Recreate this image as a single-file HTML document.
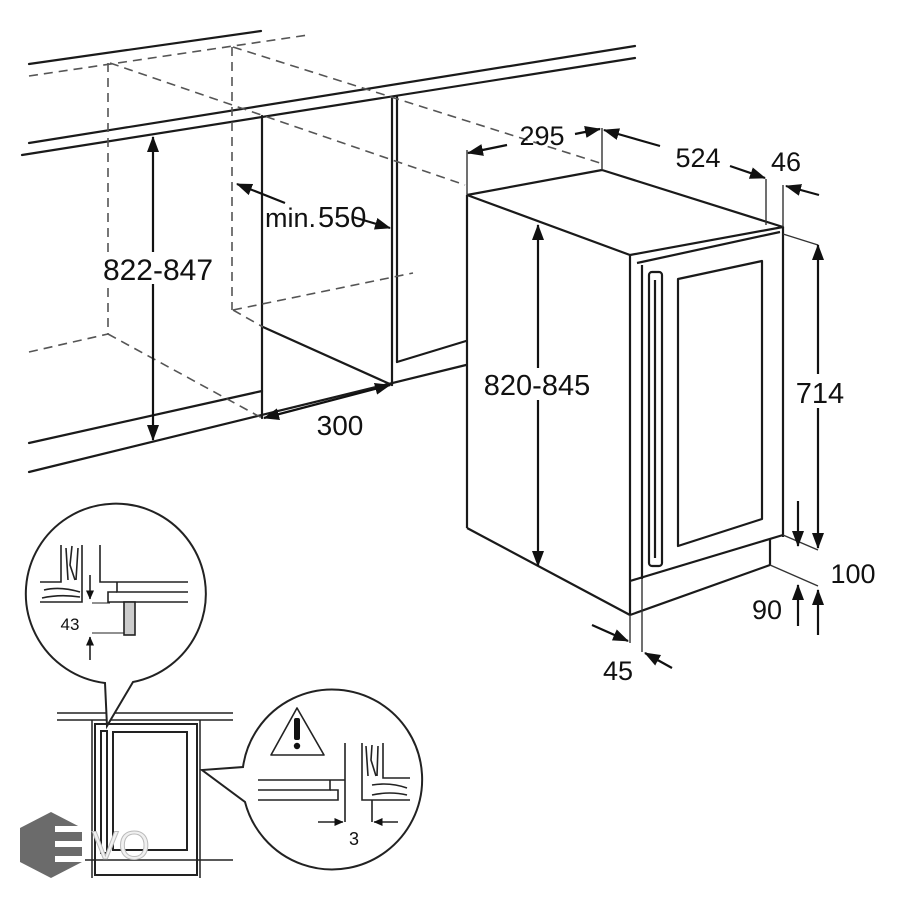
<!DOCTYPE html>
<html><head><meta charset="utf-8"><style>
html,body{margin:0;padding:0;background:#fff}
svg{display:block}
text{font-family:"Liberation Sans",sans-serif;fill:#111}
</style></head><body>
<svg width="911" height="900" viewBox="0 0 911 900" xmlns="http://www.w3.org/2000/svg">
<defs>
<marker id="a" markerUnits="userSpaceOnUse" markerWidth="16" markerHeight="12" refX="15" refY="6" orient="auto-start-reverse">
<path d="M0,0 L16,6 L0,12 Z" fill="#111"/></marker>
<marker id="s" markerUnits="userSpaceOnUse" markerWidth="9" markerHeight="8" refX="8.5" refY="4" orient="auto-start-reverse">
<path d="M0,0 L9,4 L0,8 Z" fill="#111"/></marker>
</defs>
<g stroke="#1a1a1a" stroke-width="2.2" fill="none" stroke-linecap="round">
<!-- kitchen: solid lines -->
<line x1="29" y1="64" x2="261" y2="31"/>
<line x1="29" y1="143" x2="635" y2="46"/>
<line x1="22" y1="155" x2="635" y2="58"/>
<line x1="262" y1="116" x2="262" y2="418"/>
<line x1="392" y1="97" x2="392" y2="385"/>
<line x1="397" y1="96" x2="397" y2="362"/>
<line x1="397" y1="362" x2="466" y2="341"/>
<line x1="263" y1="327" x2="392" y2="385"/>
<line x1="29" y1="443" x2="262" y2="391"/>
<line x1="29" y1="472" x2="466" y2="365"/>
</g>
<g stroke="#555" stroke-width="1.6" fill="none" stroke-dasharray="9,6">
<line x1="29" y1="76" x2="308" y2="35"/>
<line x1="108" y1="63" x2="108" y2="334"/>
<line x1="232" y1="47" x2="232" y2="310"/>
<line x1="110" y1="63" x2="465" y2="185"/>
<line x1="233" y1="47" x2="600" y2="163"/>
<line x1="233" y1="310" x2="263" y2="327"/>
<line x1="233" y1="310" x2="413" y2="273"/>
<line x1="29" y1="352" x2="108" y2="334"/>
<line x1="108" y1="334" x2="262" y2="418"/>
</g>
<!-- kitchen dims -->
<g stroke="#111" stroke-width="2.2" fill="none">
<line x1="153" y1="137" x2="153" y2="440" marker-start="url(#a)" marker-end="url(#a)"/>
<line x1="285" y1="203" x2="237" y2="184" marker-end="url(#a)"/>
<line x1="353" y1="217" x2="390" y2="228" marker-end="url(#a)"/>
<line x1="264" y1="418" x2="390" y2="385" marker-start="url(#a)" marker-end="url(#a)"/>
</g>
<rect x="98" y="252" width="120" height="32" fill="#fff"/>
<text x="158" y="280" font-size="30" text-anchor="middle">822-847</text>
<text x="265" y="227" font-size="27">min.</text>
<text x="318" y="227" font-size="29">550</text>
<text x="340" y="435" font-size="28" text-anchor="middle">300</text>
<!-- appliance -->
<g stroke="#1a1a1a" stroke-width="2.2" fill="none" stroke-linejoin="round">
<polyline points="467,195 602,170 783,227 630,255 467,195"/>
<line x1="467" y1="195" x2="467" y2="528"/>
<line x1="467" y1="528" x2="630" y2="615"/>
<line x1="630" y1="255" x2="630" y2="615"/>
<line x1="783" y1="227" x2="783" y2="537"/>
<line x1="637" y1="263" x2="780" y2="232"/>
<line x1="630" y1="581" x2="783" y2="535"/>
<line x1="630" y1="615" x2="770" y2="565"/>
<line x1="770" y1="539" x2="770" y2="565"/>
<line x1="642" y1="265" x2="642" y2="579"/>
<polygon points="678,279 762,261 762,519 678,546"/>
<rect x="649" y="272" width="13" height="294" rx="3"/>
<line x1="655" y1="280" x2="655" y2="558"/>
</g>
<g stroke="#333" stroke-width="1.4" fill="none">
<line x1="467" y1="195" x2="467" y2="150"/>
<line x1="602" y1="170" x2="602" y2="128"/>
<line x1="766" y1="179" x2="766" y2="225"/>
<line x1="783" y1="185" x2="783" y2="227"/>
<line x1="783" y1="234" x2="818" y2="245"/>
<line x1="783" y1="535" x2="818" y2="550"/>
<line x1="770" y1="565" x2="818" y2="586"/>
<line x1="630" y1="615" x2="630" y2="643"/>
<line x1="642" y1="579" x2="642" y2="652"/>
</g>
<g stroke="#111" stroke-width="2.2" fill="none">
<line x1="507" y1="145" x2="468" y2="153" marker-end="url(#a)"/>
<line x1="575" y1="134" x2="600" y2="129" marker-end="url(#a)"/>
<line x1="660" y1="146" x2="604" y2="130" marker-end="url(#a)"/>
<line x1="730" y1="166" x2="765" y2="178" marker-end="url(#a)"/>
<line x1="819" y1="195" x2="786" y2="186" marker-end="url(#a)"/>
<line x1="538" y1="225" x2="538" y2="566" marker-start="url(#a)" marker-end="url(#a)"/>
<line x1="818" y1="245" x2="818" y2="548" marker-start="url(#a)" marker-end="url(#a)"/>
<line x1="798" y1="501" x2="798" y2="546" marker-end="url(#a)"/>
<line x1="798" y1="626" x2="798" y2="585" marker-end="url(#a)"/>
<line x1="818" y1="635" x2="818" y2="590" marker-end="url(#a)"/>
<line x1="592" y1="625" x2="628" y2="641" marker-end="url(#a)"/>
<line x1="672" y1="668" x2="645" y2="653" marker-end="url(#a)"/>
</g>
<rect x="474" y="368" width="126" height="32" fill="#fff"/>
<rect x="793" y="374" width="56" height="34" fill="#fff"/>
<text x="537" y="395" font-size="29" text-anchor="middle">820-845</text>
<text x="820" y="403" font-size="29" text-anchor="middle">714</text>
<text x="542" y="145" font-size="27" text-anchor="middle">295</text>
<text x="698" y="167" font-size="27" text-anchor="middle">524</text>
<text x="786" y="171" font-size="27" text-anchor="middle">46</text>
<text x="853" y="583" font-size="27" text-anchor="middle">100</text>
<text x="767" y="619" font-size="27" text-anchor="middle">90</text>
<text x="618" y="680" font-size="27" text-anchor="middle">45</text>
<!-- bottom small drawing -->
<g stroke="#222" stroke-width="1.5" fill="none">
<line x1="57" y1="713" x2="233" y2="713"/>
<line x1="57" y1="720" x2="233" y2="720"/>
<line x1="57" y1="860" x2="233" y2="860"/>
<line x1="92" y1="720" x2="92" y2="878"/>
<line x1="200" y1="720" x2="200" y2="878"/>
<rect x="95" y="724" width="102" height="151" stroke-width="2"/>
<rect x="113" y="732" width="74" height="118" stroke-width="2"/>
<rect x="101" y="731" width="6" height="122" stroke-width="2"/>
</g>
<!-- circle 1 -->
<path d="M105,683 A90,90 0 1 1 133,682 L107,726 Z" fill="#fff" stroke="#222" stroke-width="2"/>
<g stroke="#222" stroke-width="1.6" fill="none">
<polyline points="61,545 61,582 40,582"/>
<polyline points="82,545 82,602 40,602"/>
<path d="M66,548 L68,580 M72,546 L70,565 L75,580 M78,548 L76,580 M44,590 Q60,586 80,592 M42,598 Q60,594 80,597"/>
<polyline points="100,545 100,582 188,582"/>
<polyline points="117,582 117,592 188,592"/>
<polyline points="188,602 108,602 108,592 117,592"/>
<rect x="124" y="602" width="11" height="33" fill="#ccc"/>
<line x1="92" y1="603" x2="110" y2="603" stroke-width="1"/>
<line x1="92" y1="633" x2="124" y2="633" stroke-width="1"/>
<line x1="90" y1="575" x2="90" y2="599" marker-end="url(#s)"/>
<line x1="90" y1="660" x2="90" y2="637" marker-end="url(#s)"/>
</g>
<text x="70" y="630" font-size="17" text-anchor="middle">43</text>
<!-- circle 2 -->
<path d="M243,767 A90,90 0 1 1 245,802 L202,770 Z" fill="#fff" stroke="#222" stroke-width="2"/>
<g stroke="#222" stroke-width="1.6" fill="none">
<path d="M297,708 L324,755 L271,755 Z" stroke-linejoin="round"/>
<line x1="345" y1="743" x2="345" y2="822"/>
<polyline points="258,780 345,780"/>
<polyline points="258,790 330,790 330,780"/>
<polyline points="258,800 338,800 338,790 330,790"/>
<polyline points="362,743 362,800 410,800"/>
<polyline points="383,743 383,778 410,778"/>
<path d="M366,746 L368,776 M372,745 L371,760 L376,776 M378,746 L377,776 M372,785 Q390,782 407,788 M372,795 Q390,791 407,795"/>
<line x1="318" y1="822" x2="343" y2="822" marker-end="url(#s)"/>
<line x1="398" y1="822" x2="374" y2="822" marker-end="url(#s)"/>
<line x1="372" y1="800" x2="372" y2="822"/>
</g>
<rect x="294" y="718" width="6" height="22" rx="2" fill="#111"/>
<circle cx="297" cy="746" r="3.2" fill="#111"/>
<text x="354" y="845" font-size="18" text-anchor="middle" fill="#444">3</text>
<!-- EVO logo -->
<polygon points="51,812 82,828 82,862 51,878 20,862 20,828" fill="#6b6b6b"/>
<g fill="#fff"><rect x="55" y="826" width="30" height="6"/><rect x="55" y="841" width="30" height="6"/><rect x="55" y="856" width="30" height="6"/></g>
<text x="92" y="859" font-size="40" fill="#ececec" stroke="#bbb" stroke-width="1" style="fill:#f0f0f0">VO</text>
</svg>
</body></html>
